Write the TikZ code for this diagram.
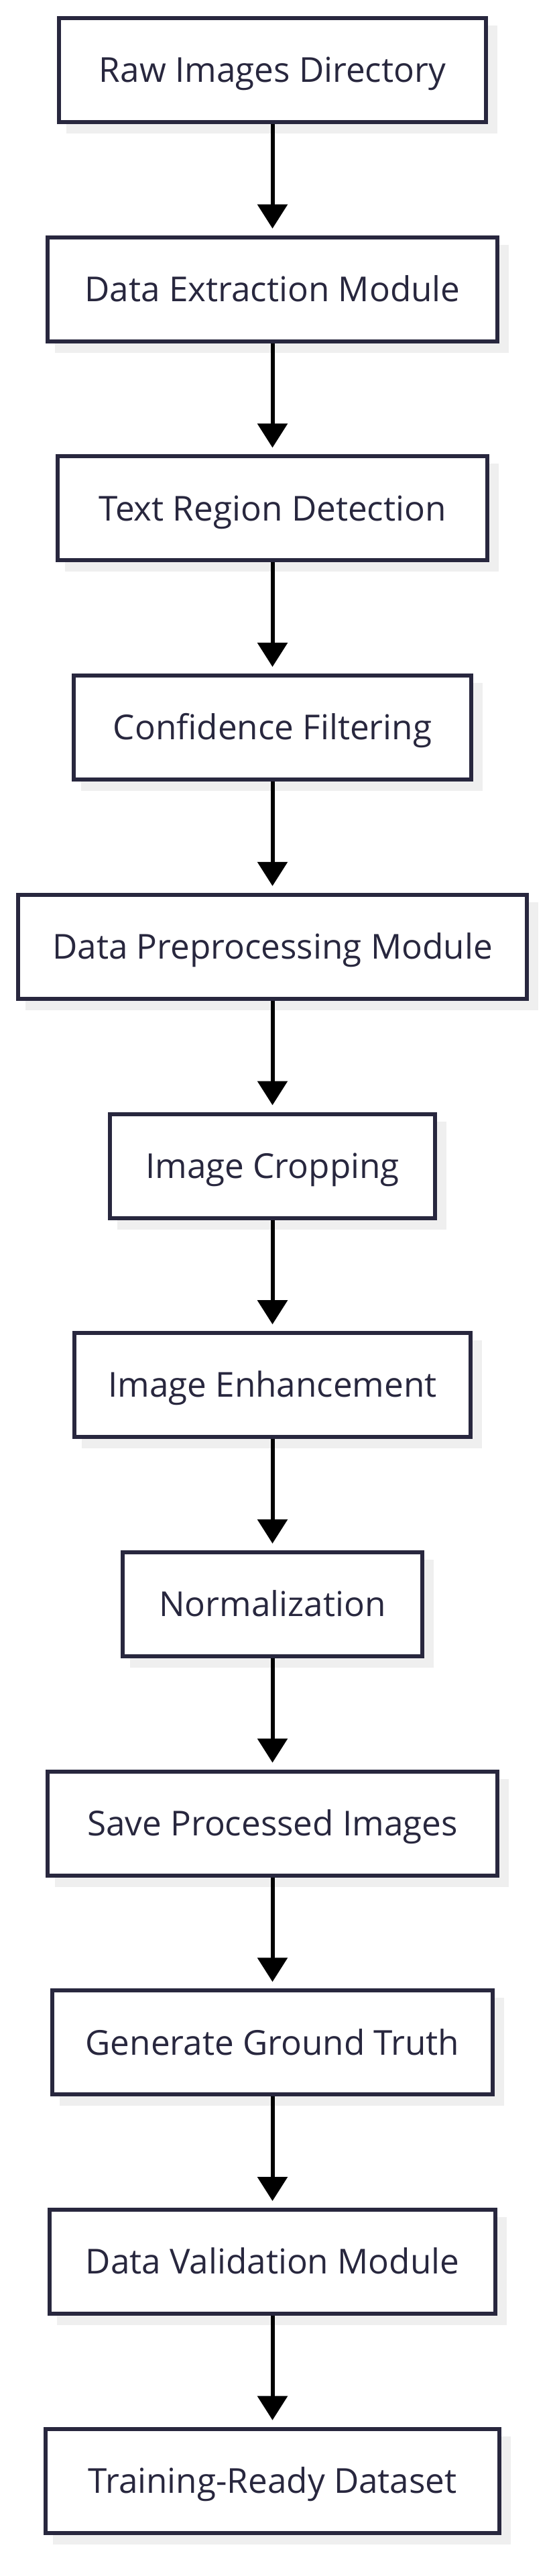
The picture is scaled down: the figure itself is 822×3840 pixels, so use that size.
\documentclass[tikz,border=0pt]{standalone}
\usepackage{fontspec}
\setmainfont{Open Sans}
\usetikzlibrary{arrows.meta,shadows}
\definecolor{ink}{RGB}{40,39,62}
\definecolor{shade}{RGB}{239,239,239}

\begin{document}
\begin{tikzpicture}[x=.25pt,y=-.25pt,>={Triangle[width=11pt,length=9pt]},
  stage/.style={draw=ink,line width=1.5pt,fill=white,text=ink,minimum height=38.75pt,
    text height=9.1pt,text depth=0pt,font=\fontsize{12.8}{15}\selectfont,
    general shadow={draw=shade,fill=shade,shadow xshift=3.5pt,shadow yshift=-3.5pt}}]
\useasboundingbox (0,0) rectangle (822,3840);
\foreach \lbl/\w [count=\i] in {Raw Images Directory/159.25,Data Extraction Module/167.75,
  Text Region Detection/160.25,Confidence Filtering/148.25,Data Preprocessing Module/189.75,
  Image Cropping/121.25,Image Enhancement/147.75,Normalization/111.75,
  Save Processed Images/167.75,Generate Ground Truth/164.25,Data Validation Module/166.25,
  Training-Ready Dataset/169.25}
  \node[stage,minimum width=\w pt] (s\i) at (406.5,{104.5+326.7*(\i-1)}) {\lbl};
\foreach \i [count=\j from 2] in {1,...,11}
  \draw[->,line width=1.5pt,shorten >=2.5pt] (s\i) -- (s\j);
\end{tikzpicture}
\end{document}
